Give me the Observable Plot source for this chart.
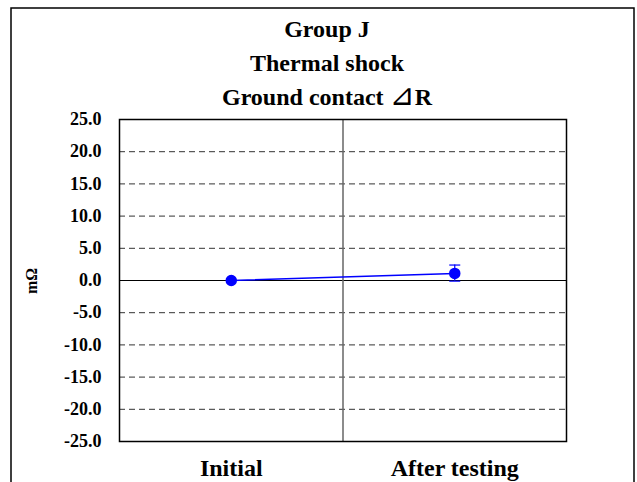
<!DOCTYPE html>
<html>
<head>
<meta charset="utf-8">
<script src="https://cdn.jsdelivr.net/npm/d3@7"></script>
<script src="https://cdn.jsdelivr.net/npm/@observablehq/plot@0.6"></script>
<style>
  html, body { margin: 0; padding: 0; background: #fff; }
  svg { display: block; }
</style>
</head>
<body>
<div id="chart"></div>
<script>
// ---- data ----
const titleLines = ["Group J", "Thermal shock", "Ground contact \u22BFR"];
const categories = ["Initial", "After testing"];
const meanValues = [0.0, 1.1];
const lowValues = [0.0, -0.1];
const highValues = [0.0, 2.4];
const yTicks = [-25, -20, -15, -10, -5, 0, 5, 10, 15, 20, 25];
const gridTicks = [-20, -15, -10, -5, 5, 10, 15, 20];
const yLabel = "m\u03A9";

const rows = categories.map((c, i) => ({
  cat: c, pos: i + 0.5, v: meanValues[i], lo: lowValues[i], hi: highValues[i]
}));
const capRows = rows.filter(r => r.hi !== r.lo)
  .flatMap(r => [{ pos: r.pos, y: r.lo }, { pos: r.pos, y: r.hi }]);

const W = 637, H = 482;
const font = "'Liberation Serif', 'Times New Roman', serif";
const blue = "#0000ff";

// horizontal cap symbol for error bars
const capSymbol = {
  draw(context) { context.moveTo(-5.5, 0); context.lineTo(5.5, 0); }
};

const plot = Plot.plot({
  width: W,
  height: H,
  marginTop: 119,
  marginBottom: 41,
  marginLeft: 119,
  marginRight: 71,
  style: { fontFamily: font, fontWeight: "bold", background: "#fff" },
  x: { domain: [0, categories.length], axis: null },
  y: { domain: [-25, 25], axis: null },
  marks: [
    Plot.ruleY(gridTicks, { stroke: "#333", strokeWidth: 1, strokeDasharray: "6,4" }),
    Plot.ruleY([0], { stroke: "#000", strokeWidth: 1.2 }),
    Plot.ruleX([1], { stroke: "#666", strokeWidth: 1.5 }),
    Plot.frame({ stroke: "#000", strokeWidth: 1.5 }),
    Plot.axisY(yTicks, {
      tickSize: 0, tickPadding: 18, tickFormat: d => d.toFixed(1),
      fontSize: 18, fontWeight: "bold", fill: "#000", label: null
    }),
    Plot.text(categories, {
      x: (d, i) => i + 0.5, frameAnchor: "bottom", dy: 27, text: d => d,
      fontSize: 24, fontWeight: "bold", fill: "#000", lineAnchor: "middle"
    }),
    Plot.line(rows, { x: "pos", y: "v", stroke: blue, strokeWidth: 1.5 }),
    Plot.ruleX(rows, { x: "pos", y1: "lo", y2: "hi", stroke: blue, strokeWidth: 1.2 }),
    Plot.dot(capRows, { x: "pos", y: "y", symbol: capSymbol, stroke: blue, strokeWidth: 1.2, fill: "none" }),
    Plot.dot(rows, { x: "pos", y: "v", r: 5, fill: blue, stroke: blue })
  ]
});

const sel = d3.select(plot);

// titles
const tg = sel.append("g").attr("font-family", font).attr("font-weight", "bold")
  .attr("font-size", 24).attr("text-anchor", "middle").attr("fill", "#000");
[29, 63, 97].forEach((y, i) => {
  const t = tg.append("text").attr("x", 327).attr("y", y).attr("dy", "0.35em");
  const line = titleLines[i];
  const k = line.indexOf("\u22BF");
  if (k < 0) { t.text(line); return; }
  t.append("tspan").text(line.slice(0, k));
  t.append("tspan").attr("font-family", "'DejaVu Sans', sans-serif")
    .attr("font-weight", "normal").attr("font-size", 30).text("\u22BF");
  t.append("tspan").text(line.slice(k + 1));
});

// y label
sel.append("text").attr("transform", "translate(31,281) rotate(-90)")
  .attr("text-anchor", "middle").attr("dy", "0.35em")
  .attr("font-family", font).attr("font-weight", "bold").attr("font-size", 16)
  .attr("fill", "#000").text(yLabel);

// outer border
sel.append("rect").attr("x", 11).attr("y", 8).attr("width", 623).attr("height", 490)
  .attr("fill", "none").attr("stroke", "#000").attr("stroke-width", 1.5);

document.getElementById("chart").appendChild(plot);
</script>
</body>
</html>
